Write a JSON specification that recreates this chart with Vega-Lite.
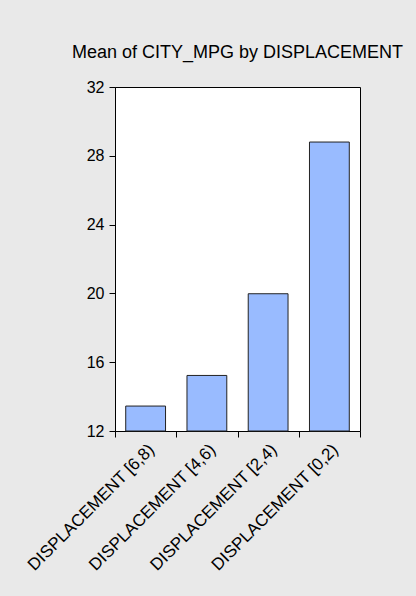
{
  "$schema": "https://vega.github.io/schema/vega-lite/v6.json",
  "width": 245,
  "height": 344,
  "autosize": "none",
  "padding": {"left": 115, "top": 87, "right": 56, "bottom": 165},
  "background": "#e9e9e9",
  "title": {
    "text": "Mean of CITY_MPG by DISPLACEMENT",
    "fontSize": 18,
    "font": "Liberation Sans",
    "fontWeight": "normal",
    "color": "#000000",
    "anchor": "middle",
    "frame": "group",
    "baseline": "alphabetic",
    "offset": 3
  },
  "data": {
    "values": [
      {"group": "DISPLACEMENT [6,8)", "mpg": 13.45},
      {"group": "DISPLACEMENT [4,6)", "mpg": 15.23},
      {"group": "DISPLACEMENT [2,4)", "mpg": 19.98},
      {"group": "DISPLACEMENT [0,2)", "mpg": 28.8}
    ]
  },
  "mark": {"type": "bar", "color": "#99bbff", "stroke": "#222222", "strokeWidth": 1, "width": {"band": 0.65}},
  "encoding": {
    "x": {
      "field": "group",
      "type": "nominal",
      "sort": null,
      "scale": {"paddingInner": 0, "paddingOuter": 0},
      "axis": {
        "title": null,
        "labelAngle": -45,
        "labelAlign": "right",
        "labelBaseline": "top",
        "labelOverlap": false,
        "labelLimit": 300,
        "tickBand": "extent",
        "tickSize": 6,
        "labelFontSize": 17,
        "labelPadding": 4
      }
    },
    "y": {
      "field": "mpg",
      "type": "quantitative",
      "scale": {"domain": [12, 32], "nice": false, "zero": false},
      "axis": {
        "title": null,
        "values": [12, 16, 20, 24, 28, 32],
        "grid": false,
        "tickSize": 6,
        "labelFontSize": 16,
        "labelPadding": 5
      }
    },
    "y2": {"datum": 12}
  },
  "config": {
    "view": {"stroke": "#000000", "fill": "#ffffff", "strokeWidth": 1},
    "axis": {
      "domainColor": "#000000",
      "tickColor": "#000000",
      "labelColor": "#000000",
      "labelFont": "Liberation Sans"
    }
  }
}
